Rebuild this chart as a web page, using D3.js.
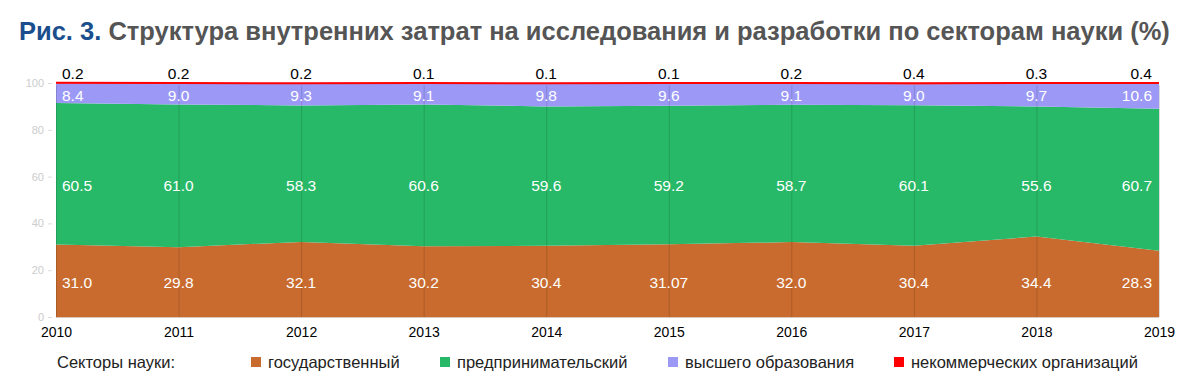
<!DOCTYPE html>
<html>
<head>
<meta charset="utf-8">
<script src="https://cdn.jsdelivr.net/npm/d3@7"></script>
<style>
html,body{margin:0;padding:0;background:#fff;}
svg{display:block;font-family:"Liberation Sans",Arial,sans-serif;}
</style>
</head>
<body>
<svg id="chart" width="1200" height="385"></svg>
<script>
const years = [2010, 2011, 2012, 2013, 2014, 2015, 2016, 2017, 2018, 2019];
const government = [31.0, 29.8, 32.1, 30.2, 30.4, 31.07, 32.0, 30.4, 34.4, 28.3];
const business = [60.5, 61.0, 58.3, 60.6, 59.6, 59.2, 58.7, 60.1, 55.6, 60.7];
const higherEd = [8.4, 9.0, 9.3, 9.1, 9.8, 9.6, 9.1, 9.0, 9.7, 10.6];
const nonProfit = [0.2, 0.2, 0.2, 0.1, 0.1, 0.1, 0.2, 0.4, 0.3, 0.4];
const governmentLabels = ["31.0", "29.8", "32.1", "30.2", "30.4", "31.07", "32.0", "30.4", "34.4", "28.3"];
const businessLabels = ["60.5", "61.0", "58.3", "60.6", "59.6", "59.2", "58.7", "60.1", "55.6", "60.7"];
const higherEdLabels = ["8.4", "9.0", "9.3", "9.1", "9.8", "9.6", "9.1", "9.0", "9.7", "10.6"];
const nonProfitLabels = ["0.2", "0.2", "0.2", "0.1", "0.1", "0.1", "0.2", "0.4", "0.3", "0.4"];
const yTicks = [0, 20, 40, 60, 80, 100];
const seriesNames = ["государственный", "предпринимательский", "высшего образования", "некоммерческих организаций"];
const legendTitle = "Секторы науки:";
const titlePrefix = "Рис. 3.";
const titleText = " Структура внутренних затрат на исследования и разработки по секторам науки (%)";

const colors = ["#c96b2e", "#27b968", "#9b99f5", "#ff0000"];
const keys = ["gov", "bus", "edu", "np"];

const svg = d3.select("#chart");

// Title
const title = svg.append("text").attr("x", 19).attr("y", 40)
  .attr("font-size", 25.5).attr("font-weight", "bold");
title.append("tspan").attr("fill", "#1b4e8c").text(titlePrefix);
title.append("tspan").attr("fill", "#555555").text(titleText);

const x = d3.scaleLinear().domain([years[0], years[years.length - 1]]).range([56, 1159]);
const y = d3.scaleLinear().domain([0, 100]).range([317, 83]);

const table = years.map((yr, i) => ({year: yr, gov: government[i], bus: business[i], edu: higherEd[i], np: nonProfit[i]}));
const stacked = d3.stack().keys(keys)(table);

const area = d3.area().x(d => x(d.data.year)).y0(d => y(d[0])).y1(d => y(d[1]));

svg.append("g").selectAll("path").data(stacked).join("path")
  .attr("d", area).attr("fill", (d, i) => colors[i]);

// red top line
const topLine = d3.line().x(d => x(d.data.year)).y(d => y(d[1]));
svg.append("path").datum(stacked[3]).attr("d", topLine)
  .attr("fill", "none").attr("stroke", "#ff0000").attr("stroke-width", 2);

// vertical lines at each year
svg.append("g").selectAll("line").data(years).join("line")
  .attr("x1", d => x(d) + 0.5).attr("x2", d => x(d) + 0.5)
  .attr("y1", y(99)).attr("y2", y(0))
  .attr("stroke", "rgba(0,0,0,0.14)").attr("stroke-width", 1);

// baseline
svg.append("line").attr("x1", x(years[0])).attr("x2", x(years[years.length-1]))
  .attr("y1", y(0) + 0.5).attr("y2", y(0) + 0.5).attr("stroke", "#d8c8bc").attr("stroke-width", 1);

// Y axis
const yAxis = d3.axisLeft(y).tickValues(yTicks).tickSize(4).tickPadding(4);
const ya = svg.append("g").attr("transform", "translate(52,0)").call(yAxis);
ya.select(".domain").remove();
ya.selectAll(".tick line").attr("stroke", "#dddddd");
ya.selectAll(".tick text").attr("fill", "#cccccc").attr("font-size", 11)
  .attr("font-family", "Liberation Sans, Arial, sans-serif");

// X axis
const xAxis = d3.axisBottom(x).tickValues(years).tickFormat(d3.format("d")).tickSize(0).tickPadding(10);
const xa = svg.append("g").attr("transform", `translate(0,${y(0)})`).call(xAxis);
xa.select(".domain").remove();
xa.selectAll(".tick text").attr("fill", "#000").attr("font-size", 14)
  .attr("font-family", "Liberation Sans, Arial, sans-serif");

// Value labels
const labelSets = [
  {labels: governmentLabels, v: 14.8, fill: "#fff"},
  {labels: businessLabels, v: 56.2, fill: "#fff"},
  {labels: higherEdLabels, v: 94.8, fill: "#fff"},
  {labels: nonProfitLabels, v: 104.2, fill: "#000"}
];
function anchorFor(i) { return i === 0 ? "start" : (i === years.length - 1 ? "end" : "middle"); }
function xFor(i) { return i === 0 ? x(years[0]) + 6 : (i === years.length - 1 ? x(years[i]) - 7 : x(years[i])); }
labelSets.forEach(s => {
  svg.append("g").selectAll("text").data(s.labels).join("text")
    .attr("x", (d, i) => xFor(i)).attr("y", y(s.v))
    .attr("dy", "0.35em").attr("text-anchor", (d, i) => anchorFor(i))
    .attr("font-size", 15.5).attr("fill", s.fill).text(d => d);
});

// Legend
const legY = 362;
svg.append("text").attr("x", 57).attr("y", legY).attr("dy", "0.35em")
  .attr("font-size", 16.5).attr("fill", "#222").text(legendTitle);
const legX = [251, 440, 668, 894];
const lg = svg.append("g").selectAll("g").data(seriesNames).join("g")
  .attr("transform", (d, i) => `translate(${legX[i]},${legY})`);
lg.append("rect").attr("x", 0).attr("y", -5).attr("width", 10).attr("height", 10)
  .attr("fill", (d, i) => colors[i]);
lg.append("text").attr("x", 17).attr("y", 0).attr("dy", "0.35em")
  .attr("font-size", 16.5).attr("fill", "#222").text(d => d);
</script>
</body>
</html>
